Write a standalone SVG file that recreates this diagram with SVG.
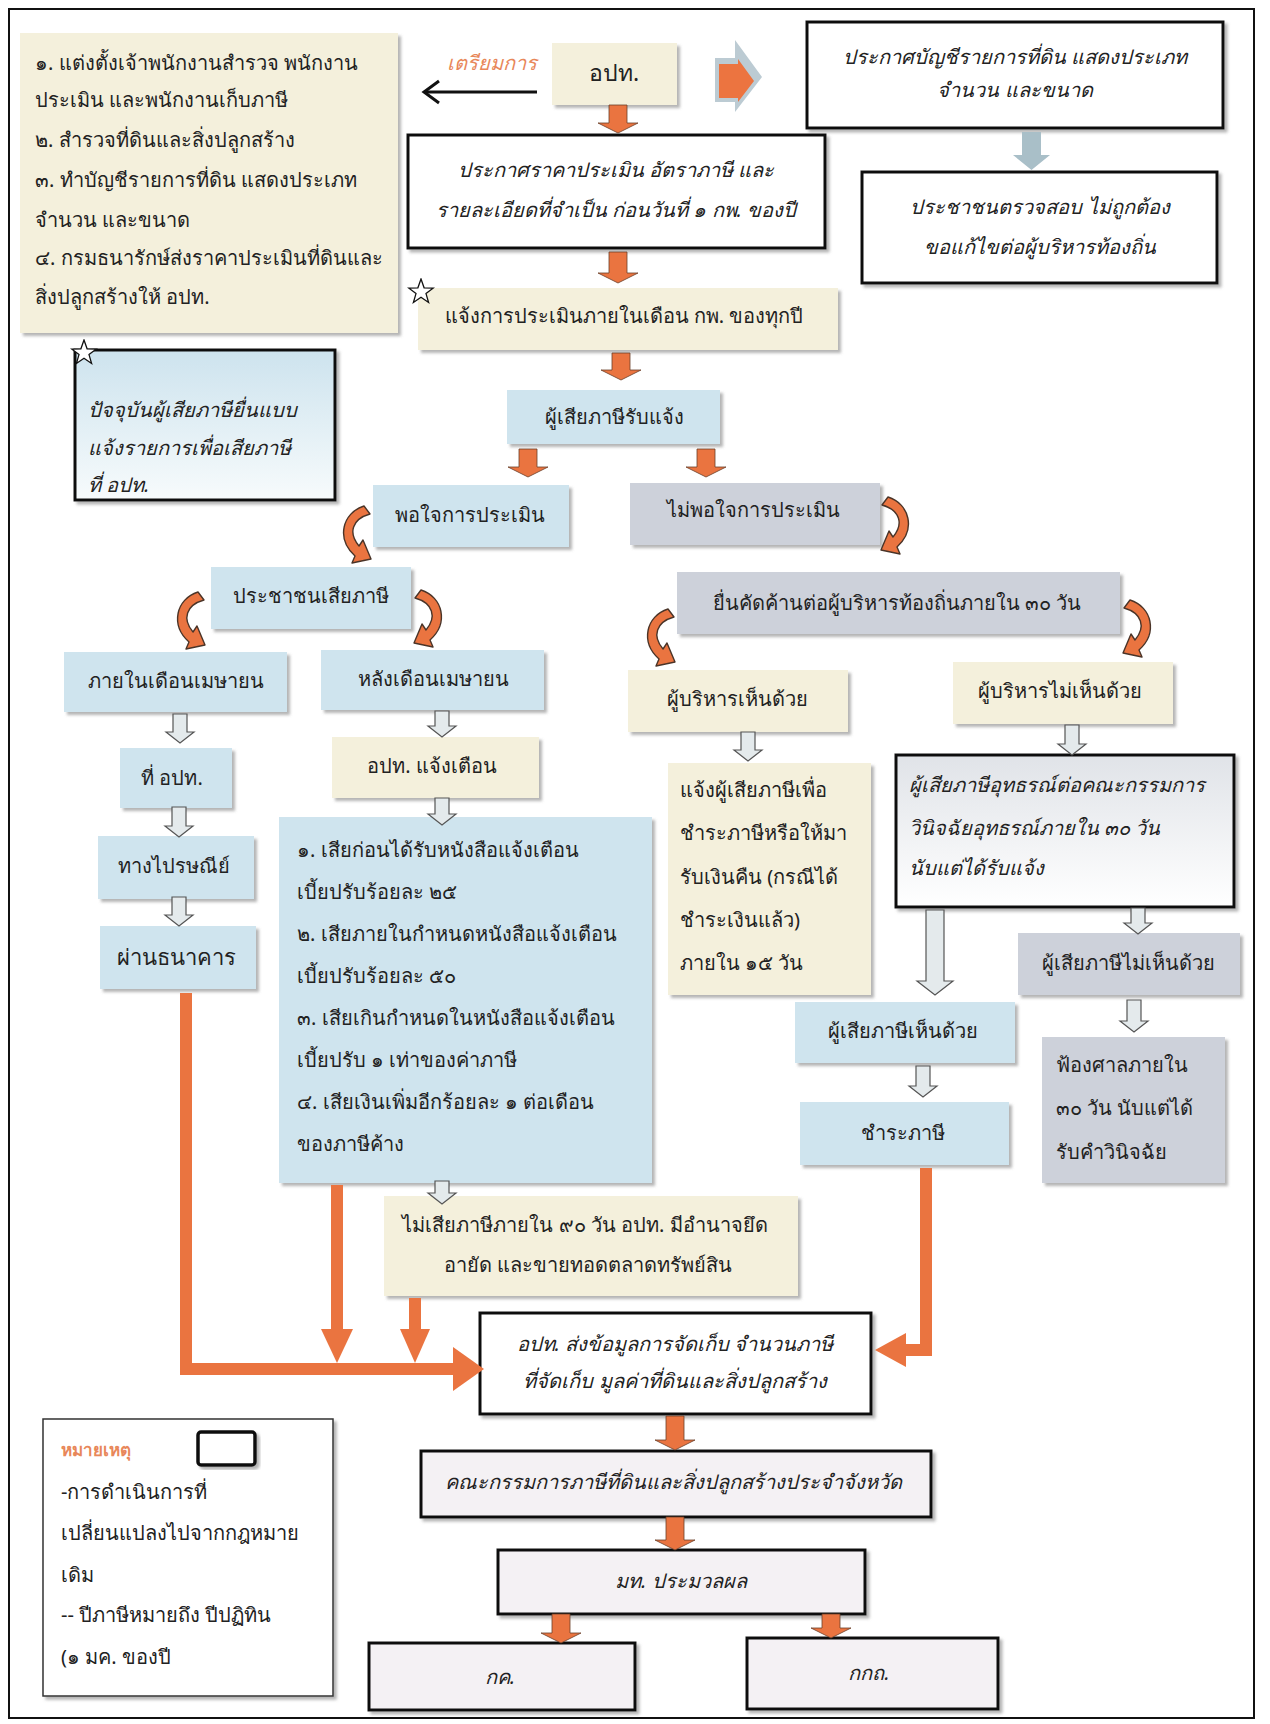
<svg xmlns="http://www.w3.org/2000/svg" xmlns:xlink="http://www.w3.org/1999/xlink" width="1270" height="1724" viewBox="0 0 1270 1724">
<style>
.t{font-family:'Noto Sans','DejaVu Sans',sans-serif;font-size:20px;fill:#222}
.i{font-style:italic}
.c{text-anchor:middle}
.beige{fill:#f4f0dc}
.blue{fill:#cfe4ee}
.gray{fill:#cdd1da}
.wb{fill:#fff;stroke:#111;stroke-width:3}
.pk{fill:#f4f1f4;stroke:#111;stroke-width:3}
.oa{fill:#ea7440;stroke:#6a3f2a;stroke-width:0.8}
.ga{fill:#e4eaec;stroke:#555;stroke-width:1.2}
.ol{stroke:#ea7440;stroke-width:12;fill:none;stroke-linejoin:miter}
</style>
<defs>
<filter id="sh" x="-5%" y="-5%" width="115%" height="120%"><feDropShadow dx="3" dy="3" stdDeviation="1.5" flood-color="#777" flood-opacity="0.55"/></filter>
<linearGradient id="gStar" x1="0" y1="0" x2="0" y2="1"><stop offset="0" stop-color="#cde3ee"/><stop offset="1" stop-color="#f7fbfc"/></linearGradient>
<linearGradient id="gApp" x1="0" y1="0" x2="0" y2="1"><stop offset="0" stop-color="#e0e3e8"/><stop offset="1" stop-color="#ffffff"/></linearGradient>
<symbol id="curveL" viewBox="0 0 36 60"><path d="M28,1 C6,8 0,34 19,51 L16,58 L35,54 L27,35 L23,41 C12,28 16,14 34,9 Z" fill="#ea7440" stroke="#4a3428" stroke-width="1.4" stroke-linejoin="round"/></symbol>
<symbol id="curveR" viewBox="0 0 36 60"><path d="M8,1 C30,8 36,34 17,51 L20,58 L1,54 L9,35 L13,41 C24,28 20,14 2,9 Z" fill="#ea7440" stroke="#4a3428" stroke-width="1.4" stroke-linejoin="round"/></symbol>
<symbol id="star" viewBox="-14 -14 28 28"><polygon points="0,-13 3.1,-4.2 12.4,-4 5,1.6 7.6,10.5 0,5.2 -7.6,10.5 -5,1.6 -12.4,-4 -3.1,-4.2" fill="#fff" stroke="#111" stroke-width="1.3"/></symbol>
</defs>

<rect x="9" y="9" width="1245" height="1709" fill="none" stroke="#111" stroke-width="2"/>

<g id="n-prep">
<rect x="20" y="33" width="378" height="300" class="beige" filter="url(#sh)"/>
<text class="t" x="35" y="70">๑. แต่งตั้งเจ้าพนักงานสำรวจ พนักงาน</text>
<text class="t" x="35" y="107">ประเมิน และพนักงานเก็บภาษี</text>
<text class="t" x="35" y="147">๒. สำรวจที่ดินและสิ่งปลูกสร้าง</text>
<text class="t" x="35" y="187">๓. ทำบัญชีรายการที่ดิน แสดงประเภท</text>
<text class="t" x="35" y="227">จำนวน และขนาด</text>
<text class="t" x="35" y="265">๔. กรมธนารักษ์ส่งราคาประเมินที่ดินและ</text>
<text class="t" x="35" y="304">สิ่งปลูกสร้างให้ อปท.</text>
</g>
<g id="n-label-prep"><text class="t i c" x="492" y="70" style="fill:#e8875a">เตรียมการ</text></g>
<g id="n-opt">
<rect x="552" y="43" width="125" height="62" class="beige" filter="url(#sh)"/>
<text class="t c" x="614" y="81" style="font-size:23px">อปท.</text>
</g>
<g id="n-announce-list">
<rect x="807" y="22" width="416" height="106" class="wb" filter="url(#sh)"/>
<text class="t i c" x="1015" y="64">ประกาศบัญชีรายการที่ดิน แสดงประเภท</text>
<text class="t i c" x="1015" y="97">จำนวน และขนาด</text>
</g>
<g id="n-public-check">
<rect x="862" y="172" width="355" height="111" class="wb" filter="url(#sh)"/>
<text class="t i c" x="1040" y="214">ประชาชนตรวจสอบ ไม่ถูกต้อง</text>
<text class="t i c" x="1040" y="254">ขอแก้ไขต่อผู้บริหารท้องถิ่น</text>
</g>
<g id="n-announce-price">
<rect x="408" y="135" width="417" height="113" class="wb" filter="url(#sh)"/>
<text class="t i c" x="616" y="177">ประกาศราคาประเมิน อัตราภาษี และ</text>
<text class="t i c" x="616" y="217">รายละเอียดที่จำเป็น ก่อนวันที่ ๑ กพ. ของปี</text>
</g>
<g id="n-notify">
<rect x="418" y="288" width="420" height="62" class="beige" filter="url(#sh)"/>
<text class="t c" x="624" y="323">แจ้งการประเมินภายในเดือน กพ. ของทุกปี</text>
<use href="#star" x="407" y="278" width="28" height="28"/>
</g>
<g id="n-taxpayer-notified">
<rect x="507" y="390" width="213" height="54" class="blue" filter="url(#sh)"/>
<text class="t c" x="614" y="424">ผู้เสียภาษีรับแจ้ง</text>
</g>
<g id="n-self-declare">
<rect x="75" y="350" width="260" height="150" fill="url(#gStar)" stroke="#111" stroke-width="3" filter="url(#sh)"/>
<use href="#star" x="70" y="339" width="28" height="28"/>
<text class="t i" x="88" y="417">ปัจจุบันผู้เสียภาษียื่นแบบ</text>
<text class="t i" x="88" y="455">แจ้งรายการเพื่อเสียภาษี</text>
<text class="t i" x="88" y="492">ที่ อปท.</text>
</g>
<g id="n-satisfied">
<rect x="373" y="485" width="196" height="62" class="blue" filter="url(#sh)"/>
<text class="t c" x="470" y="522">พอใจการประเมิน</text>
</g>
<g id="n-unsatisfied">
<rect x="630" y="483" width="250" height="62" class="gray" filter="url(#sh)"/>
<text class="t c" x="753" y="517">ไม่พอใจการประเมิน</text>
</g>
<g id="n-pay">
<rect x="211" y="567" width="200" height="62" class="blue" filter="url(#sh)"/>
<text class="t c" x="311" y="603">ประชาชนเสียภาษี</text>
</g>
<g id="n-object">
<rect x="677" y="572" width="443" height="62" class="gray" filter="url(#sh)"/>
<text class="t c" x="897" y="610">ยื่นคัดค้านต่อผู้บริหารท้องถิ่นภายใน ๓๐ วัน</text>
</g>
<g id="n-in-april">
<rect x="64" y="652" width="223" height="60" class="blue" filter="url(#sh)"/>
<text class="t c" x="176" y="688">ภายในเดือนเมษายน</text>
</g>
<g id="n-after-april">
<rect x="321" y="650" width="223" height="60" class="blue" filter="url(#sh)"/>
<text class="t c" x="433" y="686">หลังเดือนเมษายน</text>
</g>
<g id="n-exec-agree">
<rect x="628" y="670" width="220" height="62" class="beige" filter="url(#sh)"/>
<text class="t c" x="737" y="706">ผู้บริหารเห็นด้วย</text>
</g>
<g id="n-exec-disagree">
<rect x="953" y="662" width="220" height="62" class="beige" filter="url(#sh)"/>
<text class="t c" x="1060" y="698">ผู้บริหารไม่เห็นด้วย</text>
</g>
<g id="n-at-opt">
<rect x="120" y="748" width="112" height="60" class="blue" filter="url(#sh)"/>
<text class="t c" x="172" y="785">ที่ อปท.</text>
</g>
<g id="n-post">
<rect x="98" y="836" width="156" height="63" class="blue" filter="url(#sh)"/>
<text class="t c" x="174" y="873">ทางไปรษณีย์</text>
</g>
<g id="n-bank">
<rect x="100" y="926" width="156" height="63" class="blue" filter="url(#sh)"/>
<text class="t c" x="176" y="965" style="font-size:22px">ผ่านธนาคาร</text>
</g>
<g id="n-warn">
<rect x="332" y="737" width="207" height="61" class="beige" filter="url(#sh)"/>
<text class="t c" x="432" y="773">อปท. แจ้งเตือน</text>
</g>
<g id="n-penalty">
<rect x="279" y="817" width="373" height="366" class="blue" filter="url(#sh)"/>
<text class="t" x="297" y="857">๑. เสียก่อนได้รับหนังสือแจ้งเตือน</text>
<text class="t" x="297" y="899">เบี้ยปรับร้อยละ ๒๕</text>
<text class="t" x="297" y="941">๒. เสียภายในกำหนดหนังสือแจ้งเตือน</text>
<text class="t" x="297" y="983">เบี้ยปรับร้อยละ ๕๐</text>
<text class="t" x="297" y="1025">๓. เสียเกินกำหนดในหนังสือแจ้งเตือน</text>
<text class="t" x="297" y="1067">เบี้ยปรับ ๑ เท่าของค่าภาษี</text>
<text class="t" x="297" y="1109">๔. เสียเงินเพิ่มอีกร้อยละ ๑ ต่อเดือน</text>
<text class="t" x="297" y="1151">ของภาษีค้าง</text>
</g>
<g id="n-refund">
<rect x="668" y="763" width="203" height="232" class="beige" filter="url(#sh)"/>
<text class="t" x="680" y="797">แจ้งผู้เสียภาษีเพื่อ</text>
<text class="t" x="680" y="840">ชำระภาษีหรือให้มา</text>
<text class="t" x="680" y="884">รับเงินคืน (กรณีได้</text>
<text class="t" x="680" y="927">ชำระเงินแล้ว)</text>
<text class="t" x="680" y="970">ภายใน ๑๕ วัน</text>
</g>
<g id="n-appeal">
<rect x="896" y="755" width="338" height="152" fill="url(#gApp)" stroke="#111" stroke-width="3" filter="url(#sh)"/>
<text class="t i" x="909" y="792">ผู้เสียภาษีอุทธรณ์ต่อคณะกรรมการ</text>
<text class="t i" x="909" y="835">วินิจฉัยอุทธรณ์ภายใน ๓๐ วัน</text>
<text class="t i" x="909" y="875">นับแต่ได้รับแจ้ง</text>
</g>
<g id="n-tp-disagree">
<rect x="1018" y="933" width="222" height="62" class="gray" filter="url(#sh)"/>
<text class="t c" x="1128" y="970">ผู้เสียภาษีไม่เห็นด้วย</text>
</g>
<g id="n-court">
<rect x="1042" y="1037" width="183" height="146" class="gray" filter="url(#sh)"/>
<text class="t" x="1056" y="1072">ฟ้องศาลภายใน</text>
<text class="t" x="1056" y="1115">๓๐ วัน นับแต่ได้</text>
<text class="t" x="1056" y="1159">รับคำวินิจฉัย</text>
</g>
<g id="n-tp-agree">
<rect x="795" y="1002" width="220" height="61" class="blue" filter="url(#sh)"/>
<text class="t c" x="903" y="1038">ผู้เสียภาษีเห็นด้วย</text>
</g>
<g id="n-paytax">
<rect x="800" y="1102" width="209" height="63" class="blue" filter="url(#sh)"/>
<text class="t c" x="903" y="1140">ชำระภาษี</text>
</g>
<g id="n-seize">
<rect x="384" y="1196" width="414" height="100" class="beige" filter="url(#sh)"/>
<text class="t c" x="585" y="1232">ไม่เสียภาษีภายใน ๙๐ วัน อปท. มีอำนาจยึด</text>
<text class="t c" x="588" y="1272">อายัด และขายทอดตลาดทรัพย์สิน</text>
</g>
<g id="n-send">
<rect x="480" y="1313" width="391" height="101" class="wb" filter="url(#sh)"/>
<text class="t i c" x="675" y="1351">อปท. ส่งข้อมูลการจัดเก็บ จำนวนภาษี</text>
<text class="t i c" x="675" y="1388">ที่จัดเก็บ มูลค่าที่ดินและสิ่งปลูกสร้าง</text>
</g>
<g id="n-committee">
<rect x="421" y="1451" width="510" height="66" class="pk" filter="url(#sh)"/>
<text class="t i c" x="673" y="1489">คณะกรรมการภาษีที่ดินและสิ่งปลูกสร้างประจำจังหวัด</text>
</g>
<g id="n-moi">
<rect x="498" y="1550" width="367" height="64" class="pk" filter="url(#sh)"/>
<text class="t i c" x="681" y="1588">มท. ประมวลผล</text>
</g>
<g id="n-mof">
<rect x="369" y="1643" width="266" height="67" class="pk" filter="url(#sh)"/>
<text class="t i c" x="500" y="1684">กค.</text>
</g>
<g id="n-dla">
<rect x="747" y="1638" width="251" height="71" class="pk" filter="url(#sh)"/>
<text class="t i c" x="869" y="1680">กกถ.</text>
</g>
<g id="n-legend">
<rect x="43" y="1419" width="290" height="277" fill="#fff" stroke="#333" stroke-width="1.5" filter="url(#sh)"/>
<text class="t" x="61" y="1456" style="font-size:17px;fill:#e8875a;font-weight:bold">หมายเหตุ</text>
<rect x="198" y="1432" width="57" height="33" rx="3" fill="#fff" stroke="#111" stroke-width="3.5" filter="url(#sh)"/>
<text class="t" x="61" y="1499">-การดำเนินการที่</text>
<text class="t" x="61" y="1540">เปลี่ยนแปลงไปจากกฎหมาย</text>
<text class="t" x="61" y="1582">เดิม</text>
<text class="t" x="61" y="1622">-- ปีภาษีหมายถึง ปีปฏิทิน</text>
<text class="t" x="61" y="1664">(๑ มค. ของปี</text>
</g>

<g id="connectors">
<polyline points="537,92 424,92" fill="none" stroke="#111" stroke-width="3"/>
<polyline points="439,81 424,92 439,103" fill="none" stroke="#111" stroke-width="3"/>
<polygon points="715,58 735,58 735,40 762,77 735,112 735,102 715,102" fill="#bccbd3"/>
<polygon points="719,64 738,64 738,59 754,81 738,102 738,98 719,98" fill="#ec7440"/>
<polygon points="1022,132 1041,132 1041,155 1050,155 1031.5,170 1013,155 1022,155" fill="#a9bfc8"/>
<polygon class="oa" points="609,105 627,105 627,123 638,123 618,133 598,123 609,123"/>
<polygon class="oa" points="609,252 627,252 627,273 638,273 618,283 598,273 609,273"/>
<polygon class="oa" points="612,353 630,353 630,370 641,370 621,380 601,370 612,370"/>
<polygon class="oa" points="519,449 537,449 537,467 548,467 528,477 508,467 519,467"/>
<polygon class="oa" points="697,449 715,449 715,467 726,467 706,477 686,467 697,467"/>
<polygon class="oa" points="666,1416 684,1416 684,1440 695,1440 675,1450 655,1440 666,1440"/>
<polygon class="oa" points="666,1517 684,1517 684,1540 695,1540 675,1550 655,1540 666,1540"/>
<polygon class="oa" points="552,1614 570,1614 570,1633 581,1633 561,1643 541,1633 552,1633"/>
<polygon class="oa" points="822,1614 840,1614 840,1628 851,1628 831,1638 811,1628 822,1628"/>
<use href="#curveL" x="336" y="505" width="36" height="60"/>
<use href="#curveR" x="880" y="495" width="36" height="62"/>
<use href="#curveL" x="170" y="591" width="36" height="60"/>
<use href="#curveR" x="413" y="589" width="36" height="60"/>
<use href="#curveL" x="640" y="607" width="36" height="62"/>
<use href="#curveR" x="1122" y="599" width="36" height="60"/>
<polygon class="ga" points="173,714 187,714 187,732 194,732 180,743 166,732 173,732"/>
<polygon class="ga" points="172,807 186,807 186,826 193,826 179,837 165,826 172,826"/>
<polygon class="ga" points="172,897 186,897 186,915 193,915 179,926 165,915 172,915"/>
<polygon class="ga" points="435,711 449,711 449,726 456,726 442,737 428,726 435,726"/>
<polygon class="ga" points="435,798 449,798 449,814 456,814 442,825 428,814 435,814"/>
<polygon class="ga" points="435,1181 449,1181 449,1193 456,1193 442,1204 428,1193 435,1193"/>
<polygon class="ga" points="741,732 755,732 755,750 762,750 748,761 734,750 741,750"/>
<polygon class="ga" points="1065,725 1079,725 1079,744 1086,744 1072,755 1058,744 1065,744"/>
<polygon class="ga" points="1131,908 1145,908 1145,923 1152,923 1138,934 1124,923 1131,923"/>
<polygon class="ga" points="926,910 944,910 944,981 953,981 935,995 917,981 926,981"/>
<polygon class="ga" points="1127,1000 1141,1000 1141,1021 1148,1021 1134,1032 1120,1021 1127,1021"/>
<polygon class="ga" points="916,1066 930,1066 930,1086 937,1086 923,1097 909,1086 916,1086"/>
<path class="ol" d="M186,993 V1369 H456"/>
<polygon fill="#ea7440" points="453,1347 484,1369 453,1391"/>
<path class="ol" d="M337,1185 V1331"/>
<polygon fill="#ea7440" points="321,1329 353,1329 337,1363"/>
<path class="ol" d="M415,1298 V1331"/>
<polygon fill="#ea7440" points="400,1329 430,1329 415,1363"/>
<path class="ol" d="M926,1168 V1350 H904"/>
<polygon fill="#ea7440" points="906,1333 875,1350 906,1367"/>
</g>
</svg>
